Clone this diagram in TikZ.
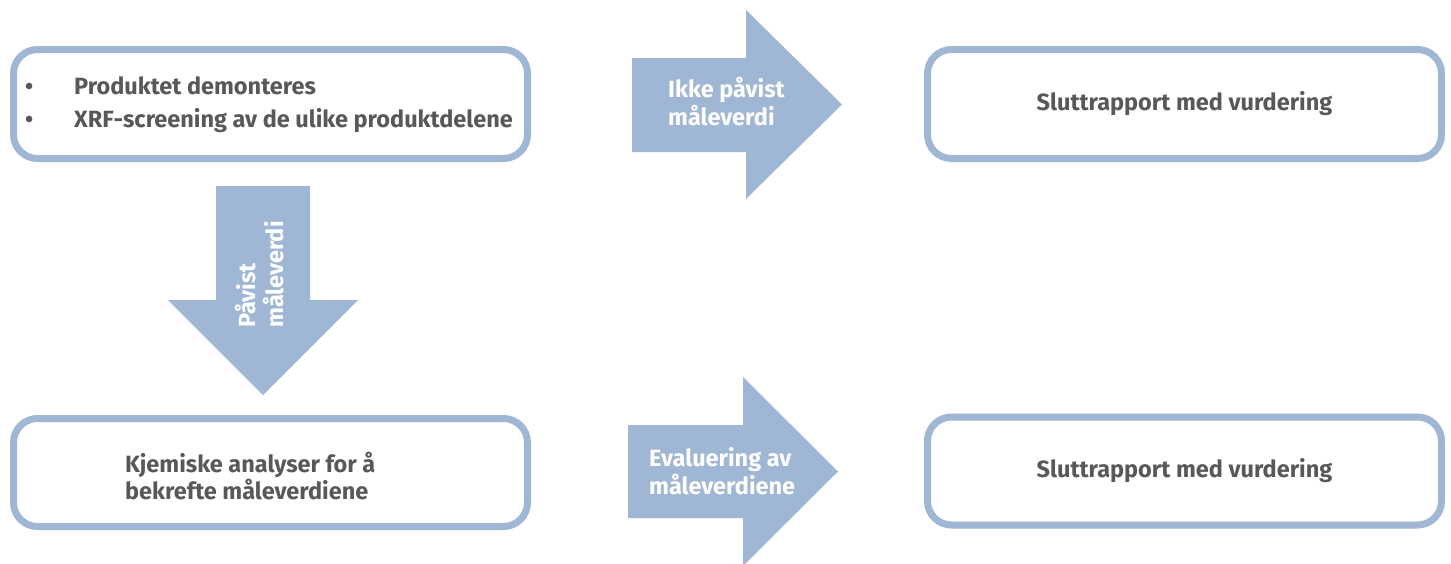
\documentclass[tikz,border=0pt]{standalone}
\usepackage{fontspec}
\setmainfont{Fira Sans}
\definecolor{abl}{HTML}{9FB6D4}
\definecolor{txt}{HTML}{58585B}
\tikzset{
  box/.style={draw=abl, line width=7pt, rounded corners=24pt, fill=white, minimum width=514pt, inner sep=0pt},
  btxt/.style={text=txt, font=\bfseries\fontsize{23.5}{27}\selectfont, align=left, inner sep=0pt},
  atxt/.style={text=white, font=\bfseries\fontsize{23.5}{28}\selectfont, align=left, inner sep=0pt},
  blockarrow/.style={fill=abl, draw=none}
}
\begin{document}
\begin{tikzpicture}[x=1pt,y=-1pt]
\useasboundingbox (0,0) rectangle (1451,563);
% boxes
\node[box, minimum height=109pt] (b1) at (270.5,104) {};
\node[box, minimum height=109pt] (b2) at (1184.5,104) {};
\node[box, minimum height=108pt] (b3) at (270.5,472.5) {};
\node[box, minimum height=108pt] (b4) at (1184.5,471) {};
% box texts
\node[btxt, anchor=west, font=\bfseries\fontsize{23.5}{33}\selectfont] (t1) at (25,104.5)
  {\makebox[49pt][l]{•}Produktet demonteres\\ \makebox[49pt][l]{•}XRF-screening av de ulike produktdelene};
\node[btxt] (t2) at (b2.center) {Sluttrapport med vurdering};
\node[btxt, anchor=west] (t3) at (125,476) {Kjemiske analyser for å\\bekrefte måleverdiene};
\node[btxt] (t4) at (b4.center) {Sluttrapport med vurdering};
% arrow 1 (right, top)
\fill[blockarrow] (632,58) -- (746,58) -- (746,10) -- (842,104.5) -- (746,199) -- (746,152) -- (632,152) -- cycle;
\node[atxt, anchor=west] (a1) at (668,102) {Ikke påvist\\måleverdi};
% arrow 2 (right, bottom)
\fill[blockarrow] (628,425) -- (743,425) -- (743,377) -- (838,471.5) -- (743,566) -- (743,518) -- (628,518) -- cycle;
\node[atxt, anchor=west] (a2) at (649,471) {Evaluering av\\måleverdiene};
% arrow 3 (down)
\fill[blockarrow] (216,186) -- (310,186) -- (310,300) -- (358,300) -- (263,395) -- (168,300) -- (216,300) -- cycle;
\node[atxt, rotate=90, anchor=west] (a3) at (259.5,328) {Påvist\\måleverdi};
\end{tikzpicture}
\end{document}
